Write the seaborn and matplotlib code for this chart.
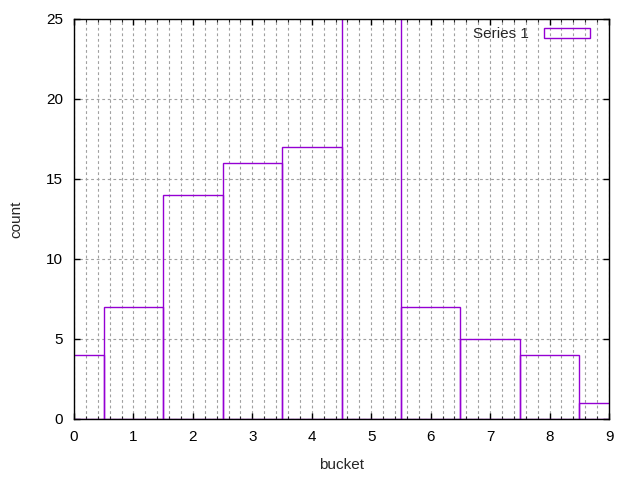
import numpy as np
import pandas as pd
import matplotlib
matplotlib.use("Agg")
import matplotlib.pyplot as plt
from matplotlib.ticker import MultipleLocator
import seaborn as sns

# histogram data (bucket 5 goes past the top of the axis)
buckets = [0, 1, 2, 3, 4, 5, 6, 7, 8, 9]
counts = [4, 7, 14, 16, 17, 28, 7, 5, 4, 1]
series_name = "Series 1"

df = pd.DataFrame({"bucket": buckets, "count": counts})

sns.set_style("ticks")
plt.rcParams["font.family"] = ["Liberation Sans", "DejaVu Sans"]
plt.rcParams["font.size"] = 11

fig = plt.figure(figsize=(6.4, 4.8), dpi=100)
ax = fig.add_axes([74 / 640, 61 / 480, 535 / 640, 400 / 480])

purple = "#9400D3"
sns.histplot(data=df, x="bucket", weights="count", discrete=True, fill=False,
             color=purple, linewidth=1.0, label=series_name, ax=ax)

ax.set_xlim(0, 9)
ax.set_ylim(0, 25)
ax.xaxis.set_major_locator(MultipleLocator(1))
ax.xaxis.set_minor_locator(MultipleLocator(0.2))
ax.yaxis.set_major_locator(MultipleLocator(5))

grid_style = dict(color="#a0a0a0", linestyle=(0, (2.5, 2.5)), linewidth=0.8)
ax.grid(which="major", axis="both", **grid_style)
ax.grid(which="minor", axis="x", **grid_style)
ax.set_axisbelow(True)

for s in ax.spines.values():
    s.set_color("black")
    s.set_linewidth(1.0)

ax.tick_params(which="major", direction="in", length=4.5, width=1,
               top=True, right=True, pad=8, labelsize=11, colors="black")
ax.tick_params(which="minor", direction="in", length=2.5, width=0.8,
               top=True, right=False)

ax.set_xlabel("bucket", fontsize=11, labelpad=10)
ax.set_ylabel("count", fontsize=11, labelpad=16)

ax.legend(loc="upper right", bbox_to_anchor=(0.9755, 0.995), frameon=False,
          markerfirst=False, handlelength=3.0, handleheight=0.6, fontsize=11,
          borderaxespad=0, handletextpad=1.0)

fig.savefig("out.png", dpi=100)
